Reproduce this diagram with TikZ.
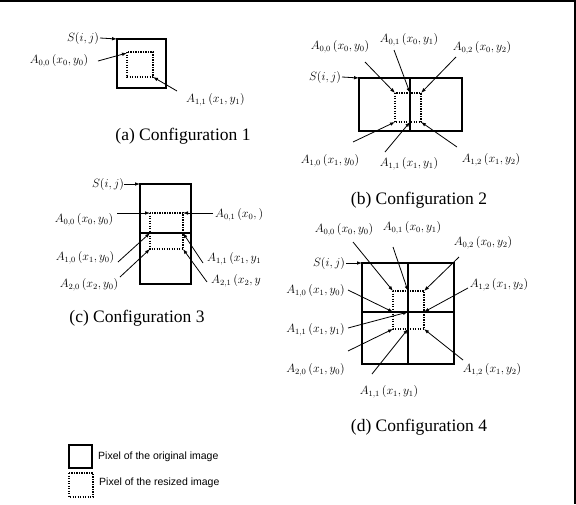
\documentclass[tikz,border=0pt]{standalone}
\usepackage{fontspec}
\setmainfont{Liberation Serif}
\newfontfamily\legfont{Liberation Sans}
\usetikzlibrary{arrows.meta}
\tikzset{
  orig/.style={line width=1.9pt},
  resz/.style={line width=1.4pt, dash pattern=on 1.2pt off 1.3pt},
  arr/.style={-{Latex[length=5pt,width=3.6pt]}, line width=0.8pt},
  lab/.style={font=\fontsize{11.6}{13}\selectfont, inner sep=0pt},
  captxt/.style={font=\fontsize{17.5}{20}\selectfont, inner sep=0pt},
  leg/.style={font=\legfont\fontsize{10.5}{12}\selectfont, inner sep=0pt, anchor=west},
}
\begin{document}
\begin{tikzpicture}[x=1pt,y=-1pt]
\useasboundingbox (0,0) rectangle (576,504);
% frame (top and right only)
\draw[line width=1.2pt] (0,1) -- (575,1) -- (575,504);

% ---------------- (a) Configuration 1
\draw[orig] (117,39) rectangle (166,88);
\draw[resz] (127,52) rectangle (153,77);
\coordinate (a0) at (117,39);
\coordinate (a00) at (127,53);
\coordinate (a11) at (153,77);
\node[lab] (aS) at (83,38) {$S(i,j)$};
\node[lab] (aL00) at (59,61) {$A_{0,0}\,(x_0,y_0)$};
\node[lab,anchor=west] (aL11) at (186,100) {$A_{1,1}\,(x_1,y_1)$};
\coordinate (taS) at (100,38);
\coordinate (ta00) at (98,61);
\coordinate (ta11) at (177,91);
\draw[arr] (taS) -- (a0);
\draw[arr] (ta00) -- (a00);
\draw[arr] (ta11) -- (a11);
\node[captxt] (capa) at (183,136) {(a) Configuration 1};

% ---------------- (b) Configuration 2
\draw[orig] (359,78) rectangle (462,131);
\draw[resz] (395,93) rectangle (421,122);
\draw[orig] (410,78) -- (410,131);
\coordinate (b0) at (359,78);
\coordinate (p00) at (395,93);
\coordinate (p01) at (410,93);
\coordinate (p02) at (421,93);
\coordinate (p10) at (395,122);
\coordinate (p11) at (410,122);
\coordinate (p12) at (421,122);
\node[lab] (bS) at (325,77) {$S(i,j)$};
\node[lab] (bL00) at (340,47) {$A_{0,0}\,(x_0,y_0)$};
\node[lab] (bL01) at (409,40) {$A_{0,1}\,(x_0,y_1)$};
\node[lab] (bL02) at (482,48) {$A_{0,2}\,(x_0,y_2)$};
\node[lab] (bL10) at (330,161) {$A_{1,0}\,(x_1,y_0)$};
\node[lab] (bL11) at (409,164) {$A_{1,1}\,(x_1,y_1)$};
\node[lab] (bL12) at (491,160) {$A_{1,2}\,(x_1,y_2)$};
\coordinate (tbS) at (342,77);
\coordinate (tb00) at (365,62);
\coordinate (tb01) at (394,50);
\coordinate (tb02) at (456,57);
\coordinate (tb10) at (353,142);
\coordinate (tb11) at (385,152);
\coordinate (tb12) at (457,147);
\draw[arr] (tbS) -- (b0);
\draw[arr] (tb00) -- (p00);
\draw[arr] (tb01) -- (p01);
\draw[arr] (tb02) -- (p02);
\draw[arr] (tb10) -- (p10);
\draw[arr] (tb11) -- (p11);
\draw[arr] (tb12) -- (p12);
\node[captxt] (capb) at (419,200) {(b) Configuration 2};

% ---------------- (c) Configuration 3
\draw[orig] (140,184) rectangle (191,284);
\draw[resz] (150,213) rectangle (183,249);
\draw[orig] (140,233) -- (191,233);
\coordinate (c0) at (140,184);
\coordinate (q00) at (150,213);
\coordinate (q01) at (183,213);
\coordinate (q10) at (150,233);
\coordinate (q11) at (183,233);
\coordinate (q20) at (150,249);
\coordinate (q21) at (183,249);
\node[lab] (cS) at (108,184) {$S(i,j)$};
\node[lab] (cL00) at (84,220) {$A_{0,0}\,(x_0,y_0)$};
\node[lab,anchor=west] (cL01) at (215,215) {$A_{0,1}\,(x_0,)$};
\node[lab] (cL10) at (85,258) {$A_{1,0}\,(x_1,y_0)$};
\node[lab] (cL20) at (89,285) {$A_{2,0}\,(x_2,y_0)$};
\node[lab,anchor=west] (cL11) at (207,259) {$A_{1,1}\,(x_1,y_1$};
\node[lab,anchor=west] (cL21) at (211,281) {$A_{2,1}\,(x_2,y$};
\coordinate (tcS) at (124,184);
\coordinate (tc00) at (117,213);
\coordinate (tc01) at (213,213);
\coordinate (tc10) at (118,262);
\coordinate (tc20) at (120,277);
\coordinate (tc11) at (203,263);
\coordinate (tc21) at (207,282);
\draw[arr] (tcS) -- (c0);
\draw[arr] (tc00) -- (q00);
\draw[arr] (tc01) -- (q01);
\draw[arr] (tc10) -- (q10);
\draw[arr] (tc20) -- (q20);
\draw[arr] (tc11) -- (q11);
\draw[arr] (tc21) -- (q21);
\node[captxt] (capc) at (137,318) {(c) Configuration 3};

% ---------------- (d) Configuration 4
\draw[orig] (362,263) rectangle (454,364);
\draw[resz] (393,291) rectangle (424,329);
\draw[orig] (408,263) -- (408,364);
\draw[orig] (362,312) -- (454,312);
\coordinate (d0) at (362,263);
\coordinate (r00) at (393,291);
\coordinate (r01) at (408,291);
\coordinate (r02) at (424,291);
\coordinate (r10) at (393,312);
\coordinate (r11) at (408,312);
\coordinate (r12) at (424,312);
\coordinate (r20) at (393,329);
\coordinate (r21) at (408,329);
\coordinate (r22) at (424,329);
\node[lab] (dS) at (329,263) {$S(i,j)$};
\node[lab] (dL00) at (344,230) {$A_{0,0}\,(x_0,y_0)$};
\node[lab] (dL01) at (412,228) {$A_{0,1}\,(x_0,y_1)$};
\node[lab] (dL02) at (483,243) {$A_{0,2}\,(x_0,y_2)$};
\node[lab,anchor=east] (dL10) at (345,291) {$A_{1,0}\,(x_1,y_0)$};
\node[lab,anchor=east] (dL11) at (345,330) {$A_{1,1}\,(x_1,y_1)$};
\node[lab,anchor=east] (dL20) at (345,370) {$A_{2,0}\,(x_1,y_0)$};
\node[lab] (dL21) at (389,392) {$A_{1,1}\,(x_1,y_1)$};
\node[lab] (dL12) at (499,285) {$A_{1,2}\,(x_1,y_2)$};
\node[lab] (dL22) at (492,370) {$A_{1,2}\,(x_1,y_2)$};
\coordinate (tdS) at (346,263);
\coordinate (td00) at (353,242);
\coordinate (td01) at (393,247);
\coordinate (td02) at (459,257);
\coordinate (td10) at (348,290);
\coordinate (td11) at (348,328);
\coordinate (td20) at (348,351);
\coordinate (td21) at (372,374);
\coordinate (td12) at (468,288);
\coordinate (td22) at (463,360);
\draw[arr] (tdS) -- (d0);
\draw[arr] (td00) -- (r00);
\draw[arr] (td01) -- (r01);
\draw[arr] (td02) -- (r02);
\draw[arr] (td10) -- (r10);
\draw[arr] (td11) -- (r11);
\draw[arr] (td20) -- (r20);
\draw[arr] (td21) -- (r21);
\draw[arr] (td12) -- (r12);
\draw[arr] (td22) -- (r22);
\node[captxt] (capd) at (419,427) {(d) Configuration 4};

% ---------------- legend
\draw[orig] (69,445) rectangle (92,468);
\draw[resz] (69,473) rectangle (93,497);
\node[leg] (lg1) at (98,457) {Pixel of the original image};
\node[leg] (lg2) at (99,483) {Pixel of the resized image};
\end{tikzpicture}
\end{document}
